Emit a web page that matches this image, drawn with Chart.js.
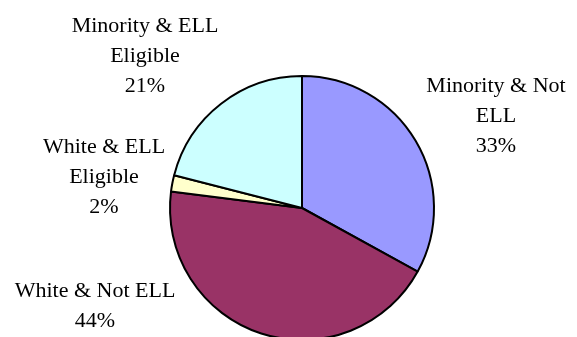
<!DOCTYPE html>
<html>
<head>
<meta charset="utf-8">
<script src="https://cdn.jsdelivr.net/npm/chart.js@4"></script>
<style>
  body { margin: 0; background: #fff; }
  #wrap { width: 577px; height: 337px; overflow: hidden; position: relative; }
</style>
</head>
<body>
<div id="wrap"><canvas id="pie" width="577" height="347"></canvas></div>
<script>
const groups = [
    ['Minority & Not', 'ELL'],
    ['White & Not ELL'],
    ['White & ELL', 'Eligible'],
    ['Minority & ELL', 'Eligible']
];
const shares = [33, 44, 2, 21];
const sliceColors = ['#9999FF', '#993366', '#FFFFCC', '#CCFFFF'];

// where each label block sits, measured from the pie centre (x, first baseline)
const labelSpots = [[194, -116], [-207, 89], [-198, -55], [-157, -176]];

const outsideLabels = {
    id: 'outsideLabels',
    afterDraw(chart) {
        const ctx = chart.ctx;
        const arc = chart.getDatasetMeta(0).data[0];
        const cx = arc.x, cy = arc.y;
        ctx.save();
        ctx.fillStyle = '#000';
        ctx.font = '22px "Liberation Serif", "Times New Roman", serif';
        ctx.textAlign = 'center';
        ctx.textBaseline = 'alphabetic';
        groups.forEach((lines, i) => {
            const x = cx + labelSpots[i][0];
            let y = cy + labelSpots[i][1];
            lines.concat([shares[i] + '%']).forEach(t => {
                ctx.fillText(t, x, y);
                y += 30;
            });
        });
        ctx.restore();
    }
};

new Chart('pie', {
    type: 'pie',
    data: {
        labels: groups.map(g => g.join(' ')),
        datasets: [{
            data: shares,
            backgroundColor: sliceColors,
            borderColor: '#000',
            borderWidth: 2,
            hoverOffset: 0
        }]
    },
    options: {
        responsive: false,
        animation: false,
        layout: { padding: { left: 169, right: 142, top: 75, bottom: 6 } },
        plugins: {
            legend: { display: false },
            tooltip: { enabled: false }
        }
    },
    plugins: [outsideLabels]
});
</script>
</body>
</html>
